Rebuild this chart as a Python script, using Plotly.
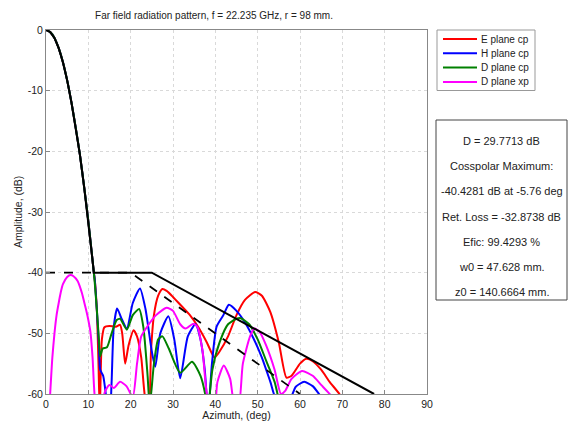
import plotly.graph_objects as go

# ---- data ----
beam_x = [0, 1, 2, 3, 4, 5, 6, 7, 8, 9, 10, 11, 11.3]
beam_y = [0, -0.35, -1.3, -3, -5.3, -8.3, -11.9, -16, -20.5, -25.8, -31.5, -38, -40]

mask_x = [11.3, 25, 77.5]
mask_y = [-40, -40, -60]
mask2_x = [0, 20, 60]
mask2_y = [-40, -40, -60]

e_x = [11.5, 12, 12.4, 12.7, 13.2, 13.8, 15, 16.5, 17.5, 18, 18.7, 19.5, 20.7, 21.5, 22.5, 23.5, 24.3,
       24.8, 25.5, 26.5, 27.5, 28.5, 30, 32, 34, 36, 38, 39.8, 41, 43, 45, 47, 49.4, 51, 53, 55, 56.8,
       58, 60, 61.5, 63, 65, 67, 69.5, 70.5]
e_y = [-41, -46, -55, -63, -51, -49, -48.8, -48.9, -48.6, -50, -55, -52, -49.5, -50.5, -54, -61, -62,
       -53, -47, -43.8, -42.7, -43, -44, -45.5, -47, -49, -51.5, -54, -53, -50.5, -47, -44.5, -43.2,
       -43.8, -46.5, -51.5, -57.3, -57, -55, -54.2, -54.6, -56, -58, -60.2, -62]

h_x = [11.5, 12, 12.5, 12.8, 13.5, 14.3, 15, 15.5, 16, 16.8, 17.8, 19.1, 20.5, 22.2, 23.5, 25, 25.8,
       27, 28.9, 30.3, 31.7, 33.5, 35.3, 36.5, 37.5, 38.3, 39.2, 40.3, 41.9, 43.2, 45, 47, 49, 51, 53,
       54.5, 57.5, 59, 61, 63, 64.5, 65.5]
h_y = [-41, -46, -52, -56, -57, -61, -65, -58, -49, -45.9, -47.5, -49.2, -45, -42.6, -46, -53, -55.5,
       -50, -47.2, -51, -57.4, -50.5, -48.5, -51, -56, -63, -55, -48.9, -47, -45.3, -46.3, -48.2,
       -50.8, -54, -58, -61, -61, -58.8, -58, -58.7, -60, -61]

d_x = [11.5, 12, 12.5, 12.8, 13.4, 14.4, 15.5, 16.7, 17.5, 19.1, 20.5, 22, 23, 24, 24.5, 25.5, 26.5,
       27.5, 29, 31.7, 34.5, 36.5, 37.6, 38.2, 39.3, 41, 43, 45, 46, 48, 50, 52, 54, 55]
d_y = [-41.5, -46, -51, -53.8, -52.5, -52.3, -50, -47.8, -47.6, -49.4, -47, -46, -49, -57, -62, -55,
       -51, -50.5, -52.5, -56.5, -54.7, -57, -60, -63, -56, -51.5, -48.5, -47.6, -47.5, -48.5, -51,
       -54.5, -58, -61]

x_x = [0.9, 1.5, 2, 2.5, 3, 3.5, 4, 5, 5.8, 6.5, 7.5, 8, 8.5, 9, 9.5, 10, 10.5, 11, 11.6,
       12.5, 14, 15, 16, 17.5, 19, 20.5, 21.5, 22.5, 24, 26, 28.5, 30, 31.7, 33, 34.8, 35.8, 37, 38.3,
       39.8, 40.5, 42, 43.5, 44.3, 45.5, 46.5, 48.2, 49.2, 50.5, 52, 54, 55.5, 56.5, 58, 60.5, 63,
       65, 67, 68]
x_y = [-61, -54, -50, -47, -45, -43.2, -41.9, -40.7, -40.4, -40.6, -41.4, -42.3, -43.4, -44.8, -46.2,
       -47.8, -49.8, -54, -61, -63, -59.5, -58.5, -59, -58, -58.7, -60.5, -55, -50.5, -48.8, -47,
       -45.8, -46.3, -48.5, -49.2, -48.4, -49, -53, -61, -62, -58, -55.3, -57.5, -61, -62, -55,
       -50.5, -49.2, -49.8, -52, -56, -60, -59.5, -57.5, -56.2, -57, -58.5, -60, -61]

legend_names = ["E plane cp", "H plane cp", "D plane cp", "D plane xp"]
colors = ["#ff0000", "#0000ff", "#008000", "#ff00ff"]

x_ticks = [0, 10, 20, 30, 40, 50, 60, 70, 80, 90]
y_ticks = [0, -10, -20, -30, -40, -50, -60]

info_lines = [
    "D = 29.7713 dB",
    "Cosspolar Maximum:",
    "-40.4281 dB at -5.76 deg",
    "Ret. Loss = -32.8738 dB",
    "Efic: 99.4293 %",
    "w0 = 47.628 mm.",
    "z0 = 140.6664 mm.",
]

FONT = "Liberation Sans, Arial, sans-serif"
TXT = "#222"

# plot area in pixels
L, R, T, B = 46, 427, 30, 394
W, H = 573, 421
PW, PH = R - L, B - T


def px2x(px):
    return (px - L) / PW


def py2y(py):
    return (B - py) / PH


fig = go.Figure()
cp = [(e_x, e_y), (h_x, h_y), (d_x, d_y)]
for (xs, ys), name, col in zip(cp, legend_names[:3], colors[:3]):
    fig.add_trace(go.Scatter(x=beam_x + xs, y=beam_y + ys, mode="lines", name=name,
                             line=dict(color=col, width=2, shape="spline", smoothing=0.6),
                             showlegend=False))
fig.add_trace(go.Scatter(x=x_x, y=x_y, mode="lines", name=legend_names[3], showlegend=False,
                         line=dict(color=colors[3], width=2, shape="spline", smoothing=0.6)))
fig.add_trace(go.Scatter(x=mask2_x, y=mask2_y, mode="lines", showlegend=False,
                         line=dict(color="black", width=1.8, dash="dash")))
fig.add_trace(go.Scatter(x=beam_x + mask_x[1:], y=beam_y + mask_y[1:], mode="lines",
                         showlegend=False, line=dict(color="black", width=2)))

fig.update_layout(
    width=W, height=H,
    margin=dict(l=L, r=W - R, t=T, b=H - B, autoexpand=False),
    paper_bgcolor="white", plot_bgcolor="white",
    font=dict(family=FONT, size=10, color=TXT),
    title=dict(text="Far field radiation pattern, f = 22.235 GHz, r = 98 mm.",
               x=214 / W, xanchor="center", y=1 - 15 / H, yanchor="middle",
               font=dict(size=10, family=FONT, color=TXT)),
    showlegend=False,
)
fig.update_xaxes(range=[0, 90], tickvals=x_ticks, ticktext=[str(v) for v in x_ticks],
                 showgrid=True, gridcolor="#d9d9d9", griddash="dot", gridwidth=1,
                 zeroline=False, showline=True, linecolor="#888", mirror=True,
                 ticks="inside", ticklen=4, tickcolor="#888", automargin=False,
                 tickfont=dict(size=10.5),
                 title=dict(text="Azimuth, (deg)", standoff=0, font=dict(size=10.5)))
fig.update_yaxes(range=[-60, 0], tickvals=y_ticks, ticktext=[str(v) for v in y_ticks],
                 showgrid=True, gridcolor="#d9d9d9", griddash="dot", gridwidth=1,
                 zeroline=False, showline=True, linecolor="#888", mirror=True,
                 ticks="inside", ticklen=4, tickcolor="#888", automargin=False,
                 tickfont=dict(size=10.5))

# y-axis title placed as rotated text
fig.add_annotation(text="Amplitude, (dB)", xref="paper", yref="paper", x=px2x(18), y=0.5,
                   xanchor="center", yanchor="middle", textangle=-90, showarrow=False,
                   font=dict(size=10.5, family=FONT, color=TXT))

# legend box (drawn manually to match the compact row spacing)
fig.add_shape(type="rect", xref="paper", yref="paper", x0=px2x(437), x1=px2x(535),
              y0=py2y(90.5), y1=py2y(30), line=dict(color="#999", width=1),
              fillcolor="white", layer="above")
for i, (name, col) in enumerate(zip(legend_names, colors)):
    py = 39 + i * 14.3
    fig.add_shape(type="line", xref="paper", yref="paper", x0=px2x(443), x1=px2x(477),
                  y0=py2y(py), y1=py2y(py), line=dict(color=col, width=2), layer="above")
    fig.add_annotation(text=name, xref="paper", yref="paper", x=px2x(479), y=py2y(py),
                       xanchor="left", yanchor="middle", showarrow=False,
                       font=dict(size=10, family=FONT, color=TXT))

# info text box
fig.add_shape(type="rect", xref="paper", yref="paper", x0=px2x(436), x1=px2x(567),
              y0=py2y(300), y1=py2y(120), line=dict(color="#444", width=1),
              fillcolor="white", layer="above")
for i, t in enumerate(info_lines):
    py = 141 + i * 25.2
    fig.add_annotation(text=t, xref="paper", yref="paper", x=px2x(501.5),
                       y=py2y(py), xanchor="center", yanchor="middle",
                       showarrow=False, font=dict(size=11, family=FONT, color=TXT))

fig.write_html("out.html", config={"displayModeBar": False},
               post_script="document.body.style.margin='0px';document.body.style.padding='0px';")
